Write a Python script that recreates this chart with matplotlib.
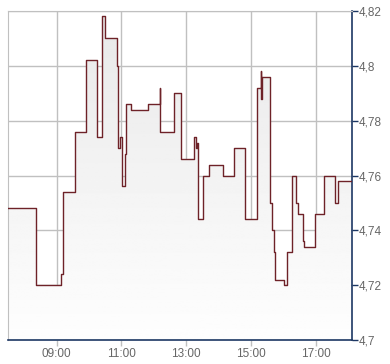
import numpy as np
import pandas as pd
from matplotlib import pyplot as plt

plt.rcParams['font.family'] = ['Liberation Sans', 'DejaVu Sans']

# step times (HH:MM) and the price that holds from that time on
times = ['07:30', '08:22', '09:09', '09:11', '09:35', '09:54', '09:55', '10:14',
         '10:25', '10:29', '10:51', '10:53', '10:58', '11:02', '11:06', '11:08',
         '11:18', '11:50', '12:11', '12:11', '12:38', '12:50', '13:15', '13:18',
         '13:20', '13:22', '13:31', '13:43', '14:08', '14:29', '14:49', '15:11',
         '15:18', '15:18', '15:20', '15:35', '15:39', '15:42', '15:45', '16:01',
         '16:06', '16:16', '16:23', '16:27', '16:37', '16:39', '16:58', '17:15',
         '17:36', '17:41', '18:06']
prices = [4.748, 4.720, 4.724, 4.754, 4.776, 4.782, 4.802, 4.774,
          4.818, 4.810, 4.800, 4.770, 4.774, 4.756, 4.768, 4.786,
          4.784, 4.786, 4.792, 4.776, 4.790, 4.766, 4.774, 4.770,
          4.772, 4.744, 4.760, 4.764, 4.760, 4.770, 4.744, 4.792,
          4.798, 4.788, 4.796, 4.750, 4.740, 4.732, 4.722, 4.720,
          4.732, 4.760, 4.750, 4.746, 4.736, 4.734, 4.746, 4.760,
          4.750, 4.758, 4.758]

x_ticks = ['09:00', '11:00', '13:00', '15:00', '17:00']
y_ticks = [4.70, 4.72, 4.74, 4.76, 4.78, 4.80, 4.82]


def to_hours(s):
    h, m = s.split(':')
    return int(h) + int(m) / 60.0


df = pd.DataFrame({'t': [to_hours(s) for s in times], 'p': prices})

fig = plt.figure(figsize=(3.9, 3.64), dpi=100)
ax = fig.add_axes([8 / 390, 24 / 364, 344 / 390, 329 / 364])

ymin, ymax = 4.70, 4.82
x0, x1 = 7.5, 18.12

# gradient fill under the step line, darker at the top
poly = ax.fill_between(df['t'], df['p'], ymin, step='post', facecolor='none', edgecolor='none')
grad = np.linspace(0.91, 0.995, 256).reshape(-1, 1)
img = ax.imshow(grad, cmap='gray', vmin=0, vmax=1, aspect='auto',
                extent=[x0, x1, ymin, ymax], origin='upper', zorder=1)
img.set_clip_path(poly.get_paths()[0], transform=ax.transData)

ax.step(df['t'], df['p'], where='post', color='#6e2228', lw=1.0, zorder=3)

ax.set_xlim(x0, x1)
ax.set_ylim(ymin, ymax)

ax.set_xticks([to_hours(s) for s in x_ticks])
ax.set_xticklabels(x_ticks)
ax.set_yticks(y_ticks)
ax.set_yticklabels([('%g' % v).replace('.', ',') for v in y_ticks])
ax.yaxis.tick_right()

ax.grid(True, color='#c0c0c0', lw=1.0, zorder=0)
ax.set_axisbelow(True)

for side in ['left', 'top']:
    ax.spines[side].set_color('#c0c0c0')
for side in ['right', 'bottom']:
    ax.spines[side].set_color('#1c3763')
    ax.spines[side].set_linewidth(1.2)

ax.tick_params(axis='x', colors='#c0c0c0', labelcolor='#666666', length=4, width=1.0,
               labelsize=8.5, pad=2)
ax.tick_params(axis='y', colors='#1c3763', labelcolor='#666666', length=4, width=1.0,
               labelsize=8.5, pad=1)

fig.savefig('out.png', dpi=100)
